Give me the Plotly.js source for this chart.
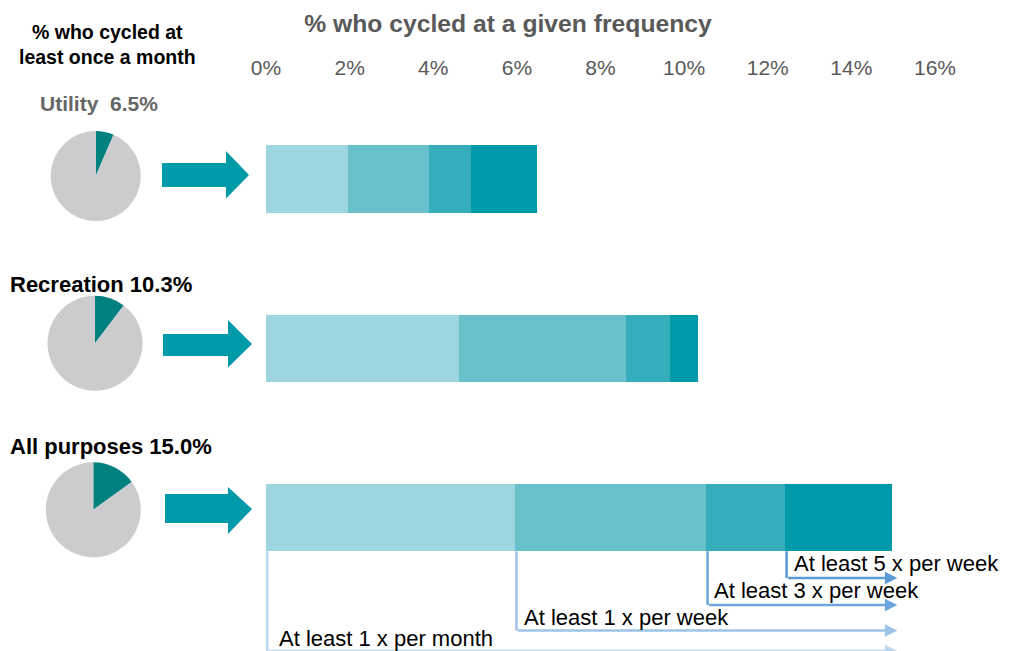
<!DOCTYPE html>
<html>
<head>
<meta charset="utf-8">
<script src="https://cdn.plot.ly/plotly-3.0.1.min.js"></script>
<style>html,body{margin:0;padding:0;background:#fff;}#chart{width:1016px;height:651px;}</style>
</head>
<body>
<div id="chart"></div>
<script>
// ---------------- DATA ----------------
const purposes = ['Utility', 'Recreation', 'All purposes'];
const purposeLabels = ['Utility\u00A0\u00A06.5%', 'Recreation 10.3%', 'All purposes 15.0%'];
const monthlyShare = [6.5, 10.3, 15.0];           // % who cycled at least once a month (pies)
const frequencyNames = ['At least 1 x per month', 'At least 1 x per week', 'At least 3 x per week', 'At least 5 x per week'];
// exclusive bands (% of adults), per purpose: Utility, Recreation, All purposes
const band1xMonth = [1.97, 4.62, 5.96];
const band1xWeek  = [1.93, 3.98, 4.57];
const band3xWeek  = [1.00, 1.06, 1.89];
const band5xWeek  = [1.58, 0.67, 2.56];
const tickValues = [0, 2, 4, 6, 8, 10, 12, 14, 16];
const tickLabels = ['0%', '2%', '4%', '6%', '8%', '10%', '12%', '14%', '16%'];

// ---------------- STYLE / LAYOUT HELPERS ----------------
const W = 1016, H = 651;
const FONT = 'Liberation Sans, Arial, sans-serif';
const bandColors = ['#9DD6DE', '#67C0CA', '#35ADBA', '#009AA8'];
const bracketColors = ['#BDD7EE', '#9DC3E6', '#6CA6DC', '#5B9BD5'];
const pieColors = ['#00807F', '#CCCCCE'];
const px = p => p / W;
const py = p => 1 - p / H;
const rowPx = 169.25, row0 = 179, plotTop = 80;
const yd = p => (p - row0) / rowPx;   // pixel row -> category units

const bands = [band1xMonth, band1xWeek, band3xWeek, band5xWeek];
const traces = bands.map((b, i) => ({
  type: 'bar', orientation: 'h', y: purposes, x: b, name: frequencyNames[i],
  width: 0.398, marker: {color: bandColors[i], line: {width: 0}},
  hoverinfo: 'x+name', xaxis: 'x', yaxis: 'y'
}));

// pies
const pieGeo = [[95.7, 176, 45], [95, 343.3, 47.5], [93.3, 509.8, 47.5]];
monthlyShare.forEach((v, i) => {
  const [cx, cy, r] = pieGeo[i];
  traces.push({
    type: 'pie', values: [v, 100 - v], labels: ['Cycled', 'Did not cycle'],
    marker: {colors: pieColors, line: {width: 0}}, textinfo: 'none', sort: false,
    direction: 'clockwise', rotation: 0, showlegend: false, hoverinfo: 'label+percent',
    domain: {x: [px(cx - r), px(cx + r)], y: [py(cy + r), py(cy - r)]}
  });
});

// block arrows
const arrowGeo = [
  {l: 162, h: 226, t: 249, bt: 163, bb: 187, ht: 151, hb: 198.5, c: 175},
  {l: 163, h: 228, t: 252, bt: 334, bb: 356, ht: 320, hb: 367.5, c: 344},
  {l: 165, h: 228, t: 252, bt: 494, bb: 523, ht: 487, hb: 534, c: 509}
];
const shapes = arrowGeo.map(a => ({
  type: 'path', xref: 'paper', yref: 'paper', fillcolor: '#009AA8', line: {width: 0},
  path: `M${px(a.l)},${py(a.bt)} L${px(a.h)},${py(a.bt)} L${px(a.h)},${py(a.ht)} L${px(a.t)},${py(a.c)} L${px(a.h)},${py(a.hb)} L${px(a.h)},${py(a.bb)} L${px(a.l)},${py(a.bb)} Z`
}));

// brackets under the All purposes bar
const lastIdx = 2;
const starts = [0, band1xMonth[lastIdx], band1xMonth[lastIdx] + band1xWeek[lastIdx],
                band1xMonth[lastIdx] + band1xWeek[lastIdx] + band3xWeek[lastIdx]];
const levelsPx = [651, 630.5, 605, 578];
const labelPos = [[278, 638], [523, 617.5], [713, 590.5], [793, 563]];
const tipX = 15.1;
const barBottom = lastIdx + 0.199;
const annotations = [];
starts.forEach((s, i) => {
  const lv = yd(levelsPx[i]);
  shapes.push({type: 'line', xref: 'x', yref: 'y', x0: s + 0.03, x1: s + 0.03, y0: barBottom, y1: lv,
               line: {color: bracketColors[i], width: 2.5}});
  annotations.push({xref: 'x', yref: 'y', axref: 'x', ayref: 'y', x: tipX, y: lv, ax: s + 0.03, ay: lv,
               text: '', showarrow: true, arrowhead: 2, arrowsize: 1, arrowwidth: 2.5,
               arrowcolor: bracketColors[i], standoff: 0, startstandoff: 0});
  annotations.push({xref: 'paper', yref: 'paper', x: px(labelPos[i][0]), y: py(labelPos[i][1]),
               xanchor: 'left', yanchor: 'middle', showarrow: false, borderpad: 0,
               text: frequencyNames[i], font: {family: FONT, size: 22, color: '#000'}});
});

// left texts
annotations.push({xref: 'paper', yref: 'paper', x: px(107), y: py(44), xanchor: 'center', yanchor: 'middle',
  showarrow: false, borderpad: 0, text: '<b>% who cycled at<br>least once a month</b>',
  font: {family: FONT, size: 19.5, color: '#000'}});
const labelGeo = [[39, 103, '#666666', 21], [9, 284, '#000000', 22], [9, 446.5, '#000000', 22]];
purposeLabels.forEach((t, i) => {
  const [x, y, c, s] = labelGeo[i];
  annotations.push({xref: 'paper', yref: 'paper', x: px(x), y: py(y), xanchor: 'left', yanchor: 'middle',
    showarrow: false, borderpad: 0, text: '<b>' + t + '</b>', font: {family: FONT, size: s, color: c}});
});

const layout = {
  width: W, height: H, margin: {l: 0, r: 0, t: 0, b: 0},
  paper_bgcolor: '#fff', plot_bgcolor: 'rgba(0,0,0,0)',
  barmode: 'stack', showlegend: false, hovermode: 'closest',
  title: {text: '<b>% who cycled at a given frequency</b>', font: {family: FONT, size: 24.7, color: '#595959'},
          xref: 'paper', yref: 'paper', x: px(508), y: py(23.5), xanchor: 'center', yanchor: 'middle'},
  xaxis: {domain: [px(266), px(935)], range: [0, 16], side: 'top', tickvals: tickValues, ticktext: tickLabels,
          showgrid: false, zeroline: false, showline: false, ticks: '', fixedrange: true,
          tickfont: {family: FONT, size: 21, color: '#595959'}},
  yaxis: {domain: [0, py(plotTop)], type: 'category', categoryarray: purposes,
          range: [yd(H), yd(plotTop)], visible: false, fixedrange: true},
  shapes: shapes, annotations: annotations
};

Plotly.newPlot('chart', traces, layout, {displayModeBar: false, staticPlot: false});
</script>
</body>
</html>
